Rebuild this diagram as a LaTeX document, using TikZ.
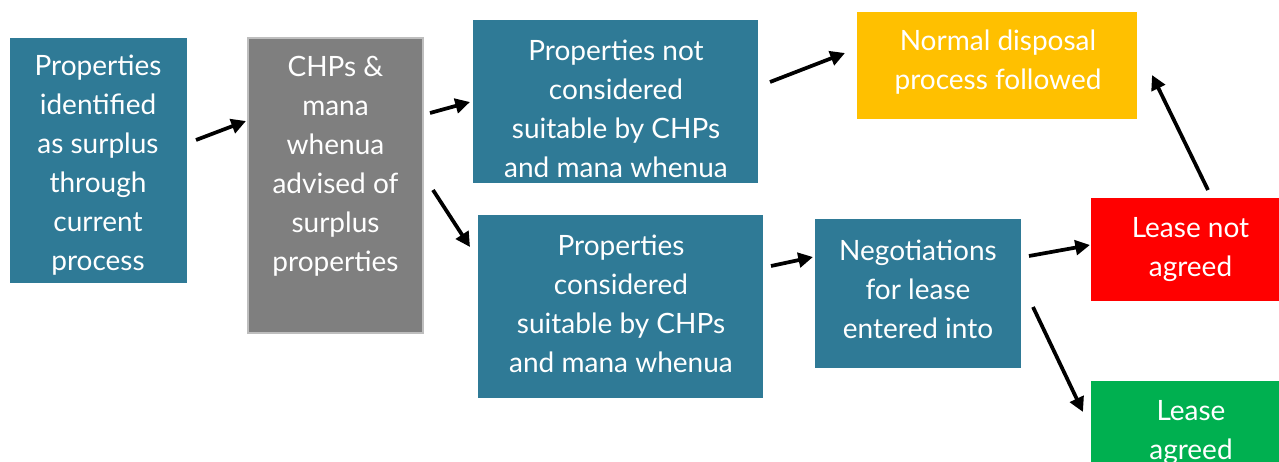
\documentclass[tikz,border=0pt]{standalone}
\usepackage{fontspec}
\setmainfont{Lato}
\usetikzlibrary{calc,fit,arrows.meta}
\definecolor{teal}{RGB}{47,122,150}
\definecolor{grayb}{RGB}{127,127,127}
\definecolor{grayedge}{RGB}{190,190,190}
\definecolor{orangeb}{RGB}{255,192,0}
\definecolor{redb}{RGB}{255,0,0}
\definecolor{greenb}{RGB}{0,176,80}
\tikzset{
  box/.style={inner sep=0pt, outer sep=0pt},
  txt/.style={text=white, align=center, inner sep=0pt, font=\fontsize{21}{29.25}\selectfont},
  arr/.style={line width=2.8pt, -{Triangle[length=11pt,width=11pt]}}
}
\begin{document}
\begin{tikzpicture}[x=0.75pt,y=-0.75pt]
\clip (0,0) rectangle (1279,461);
\fill[white] (0,0) rectangle (1279,461);
% boxes
\node[box, fill=teal, fit={(10,38) (187,283)}] (b1) {};
\node[box, fill=grayb, draw=grayedge, line width=1pt, fit={(248,38) (423,333)}] (b2) {};
\node[box, fill=teal, fit={(473,20) (758,183)}] (b3) {};
\node[box, fill=teal, fit={(478,215) (763,398)}] (b4) {};
\node[box, fill=teal, fit={(815,219) (1021,368)}] (b5) {};
\node[box, fill=orangeb, fit={(857,12) (1137,119)}] (b6) {};
\node[box, fill=redb, fit={(1091,198) (1285,301)}] (b7) {};
\node[box, fill=greenb, fit={(1091,381) (1285,480)}] (b8) {};
% texts
\node[txt] (t1) at (98,165) {Properties\\identified\\as surplus\\through\\current\\process};
\node[txt] (t2) at (335.5,166.5) {CHPs \&\\mana\\whenua\\advised of\\surplus\\properties};
\node[txt] (t3) at (616,109) {Properties not\\considered\\suitable by CHPs\\and mana whenua};
\node[txt] (t4) at (621,303.5) {Properties\\considered\\suitable by CHPs\\and mana whenua};
\node[txt] (t5) at (918,289) {Negotiations\\for lease\\entered into};
\node[txt] (t6) at (998,62.5) {Normal disposal\\process followed};
\node[txt] (t7) at (1190.5,249.5) {Lease not\\agreed};
\node[txt] (t8) at (1191,432.5) {Lease\\agreed};
% arrows
\draw[arr] ($(b1.north east)+(9,102)$) -- ($(b2.north west)+(-2,83)$);
\draw[arr] ($(b2.north east)+(7,75)$) -- ($(b3.north west)+(-3,82)$);
\draw[arr] ($(b2.north east)+(10,152)$) -- ($(b4.north west)+(-8,32)$);
\draw[arr] ($(b4.north east)+(8,51)$) -- ($(b5.north west)+(-2,38)$);
\draw[arr] ($(b3.north east)+(12,62)$) -- ($(b6.north west)+(-12,41)$);
\draw[arr] ($(b5.north east)+(8,37)$) -- ($(b7.north west)+(-1,47)$);
\draw[arr] ($(b7.north west)+(117,-8)$) -- ($(b6.north east)+(15,63)$);
\draw[arr] ($(b5.north east)+(12,88)$) -- ($(b8.north west)+(-8,31)$);
\end{tikzpicture}
\end{document}
